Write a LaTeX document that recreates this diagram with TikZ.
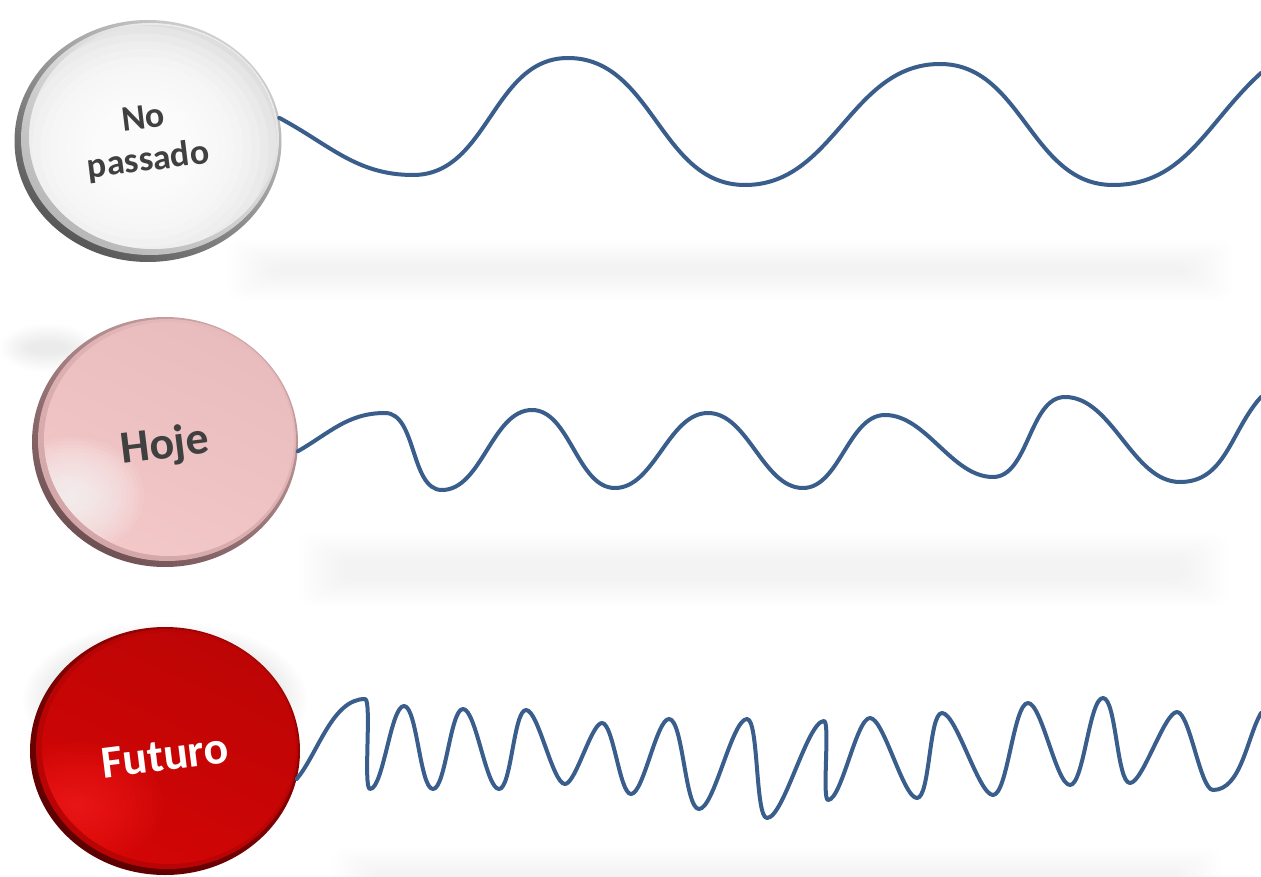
\documentclass[tikz,border=0pt]{standalone}
\usepackage{fontspec}
\setmainfont{Carlito}
\usetikzlibrary{shapes.geometric}
\definecolor{wavecol}{HTML}{3A5E8C}
\definecolor{txtgray}{HTML}{404040}
\definecolor{pinkS}{HTML}{F2C3C4}
\definecolor{pinkD}{HTML}{8A6468}
\definecolor{redS}{HTML}{D20505}
\definecolor{redD}{HTML}{7A0000}
\tikzset{
  wv/.style={draw=wavecol, line width=4pt, line cap=round, line join=round},
  btn/.style={ellipse, inner sep=0pt, draw=none},
  lbl/.style={inner sep=0pt, rotate=7, align=center, font=\bfseries\fontsize{46}{50}\selectfont},
}
\newcommand\softbar[4]{%
  \foreach \k in {0,...,11}{\fill[black, opacity=0.0055, rounded corners=12pt] ({#1+\k*4},{#2+\k*2.3}) rectangle ({#3-\k*4},{#4-\k*2.3});}}
\newcommand\softblob[4]{%
  \foreach \k in {0,...,9}{\fill[black, opacity=0.007] (#1,#2) ellipse [x radius={#3-\k*3}, y radius={#4-\k*2}];}}
% soft highlight: centre x, y, radii, colour, opacity of each layer
\newcommand\hilite[6]{%
  \foreach \k in {0,...,15}{\fill[#5, opacity=#6] (#1,#2) ellipse [x radius={#3*(1-\k/16)}, y radius={#4*(1-\k/16)}];}}
\begin{document}
\begin{tikzpicture}[x=1pt,y=-1pt]
\useasboundingbox (0,0) rectangle (1261,877);
\fill[white] (0,0) rectangle (1261,877);
% reflections / shadows
\softbar{228}{240}{1232}{300}
\softbar{298}{534}{1228}{606}
\softbar{332}{848}{1222}{902}
\softblob{48}{348}{48}{24}
\softblob{165}{700}{142}{78}
% button 1
\node[btn, minimum width=267pt, minimum height=242pt] (c1) at (148,141) {};
\shade[top color=black!18, bottom color=black!66, shading angle=-35] (c1.center) ellipse [x radius=133.5, y radius=121];
\shade[top color=black!6, bottom color=black!28, shading angle=-35] ([shift={(2,-2)}]c1.center) ellipse [x radius=129, y radius=116];
\begin{scope}
\clip ([shift={(5,-4)}]c1.center) ellipse [x radius=124, y radius=112];
\fill[black!13] ([shift={(5,-4)}]c1.center) ellipse [x radius=124, y radius=112];
\hilite{142}{148}{135}{122}{white}{0.22}
\end{scope}
% button 2
\node[btn, minimum width=266pt, minimum height=250pt] (c2) at (165,442) {};
\shade[top color=pinkS!85!black, bottom color=pinkD!80!black, shading angle=-35] (c2.center) ellipse [x radius=133, y radius=125];
\shade[top color=pinkS!95!black, bottom color=pinkS!70!pinkD, shading angle=-35] ([shift={(2,-2)}]c2.center) ellipse [x radius=129, y radius=121];
\begin{scope}
\clip ([shift={(4,-3)}]c2.center) ellipse [x radius=125, y radius=117];
\shade[top color=pinkS!96!black, bottom color=pinkS!92!white, shading angle=-25] ([shift={(4,-3)}]c2.center) ellipse [x radius=125, y radius=117];
\hilite{72}{495}{72}{58}{white}{0.08}
\end{scope}
% button 3
\node[btn, minimum width=270pt, minimum height=248pt] (c3) at (165,751) {};
\shade[top color=redS!75!black, bottom color=redD!75!black, shading angle=-35] (c3.center) ellipse [x radius=135, y radius=124];
\shade[top color=redS!88!black, bottom color=redS!70!redD, shading angle=-35] ([shift={(2,-2)}]c3.center) ellipse [x radius=131, y radius=120];
\begin{scope}
\clip ([shift={(4,-3)}]c3.center) ellipse [x radius=127, y radius=116];
\shade[top color=redS!90!black, bottom color=redS, shading angle=-25] ([shift={(4,-3)}]c3.center) ellipse [x radius=127, y radius=116];
\hilite{78}{805}{85}{62}{red!85!white}{0.06}
\end{scope}
% labels
\node[lbl, text=txtgray, font=\bfseries\fontsize{36}{42}\selectfont] (t1) at (146,141) {No\\passado};
\node[lbl, text=txtgray] (t2) at (165,446) {Hoje};
\node[lbl, text=white] (t3) at (165,756) {Futuro};
% wave end points
\coordinate (w1end) at (1261,73);
\coordinate (w2end) at (1261,397);
\coordinate (w3end) at (1261,713);
% waves
\draw[wv] (c1.10) to[out=-28,in=180] (413,175) to[out=0,in=180] (568,58)
  to[out=0,in=180] (745,185) to[out=0,in=180] (940,64)
  to[out=0,in=180] (1113,185) to[out=0,in=222] (w1end);
\draw[wv, out=0, in=180, looseness=0.85] (c2.-4) to[out=30,in=180,looseness=1] (385,413) to (442,490)
  to (532,410) to (615,488) to (708,413) to (803,488) to (885,415)
  to (993,477) to (1065,397) to (1180,482) to[out=0,in=228,looseness=1] (w2end);
\draw[wv, out=0, in=180, looseness=0.38] (c3.-12) to[out=50,in=180,looseness=0.8] (365,699)
  to[looseness=.2] (370,789) to (404,706) to (433,789) to (463,709)
  to (499,789) to (526,710) to (565,784) to (602,723) to (631,794)
  to (669,719) to (699,809) to (747,719) to[looseness=.3] (767,818)
  to (824,721) to[looseness=.2] (828,800) to (870,718) to (917,798)
  to (942,713) to (993,795) to (1028,703) to (1070,785) to (1103,698)
  to (1130,783) to (1177,712) to (1213,790) to[out=0,in=240,looseness=0.8] (w3end);
\end{tikzpicture}
\end{document}
